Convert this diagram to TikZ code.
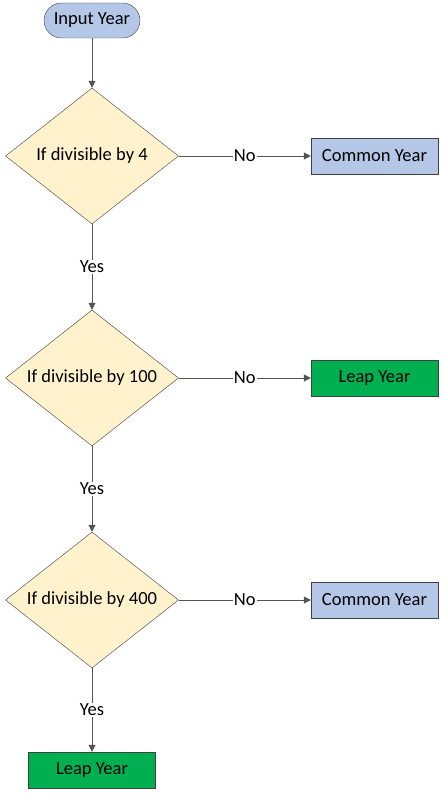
\documentclass[tikz,border=0pt]{standalone}
\usepackage{fontspec}
\setmainfont{Carlito}
\usetikzlibrary{shapes.geometric,arrows.meta,positioning}
\definecolor{boxblue}{HTML}{B4C7E7}
\definecolor{boxgreen}{HTML}{00B050}
\definecolor{decfill}{HTML}{FFF2CC}
\definecolor{edge}{HTML}{404040}
\tikzset{
  startbox/.style={draw=edge, fill=boxblue, rounded corners=17.5pt, minimum width=96pt, minimum height=35pt, font=\fontsize{18.5}{20}\selectfont},
  decision/.style={draw=edge, fill=decfill, diamond, minimum width=173pt, minimum height=136pt, inner sep=0pt, aspect=1.27, font=\fontsize{18.5}{20}\selectfont},
  outbox/.style={draw=edge, minimum width=127pt, minimum height=36pt, font=\fontsize{18.5}{20}\selectfont},
  flow/.style={draw=edge!90, line width=0.8pt, -{Triangle[length=7pt,width=7pt]}},
  lbl/.style={fill=white, inner sep=1pt, font=\fontsize{18.5}{20}\selectfont}
}
\begin{document}
\begin{tikzpicture}[x=1pt,y=-1pt]
\useasboundingbox (0,0) rectangle (444,797);
\node [startbox] (input) at (92,20.5) {Input Year};
\node [decision] (div4) at (92,156) {If divisible by 4};
\node [decision] (div100) at (92,378) {If divisible by 100};
\node [decision] (div400) at (92,600) {If divisible by 400};
\node [outbox, fill=boxblue] (common1) at (374.5,156) {Common Year};
\node [outbox, fill=boxgreen] (leap1) at (374.5,378) {Leap Year};
\node [outbox, fill=boxblue] (common2) at (374.5,600) {Common Year};
\node [outbox, fill=boxgreen] (leap2) at (92,770) {Leap Year};
% connectors
\draw [flow] (input) -- (div4);
\draw [flow] (div4) -- node [lbl] {Yes} (div100);
\draw [flow] (div100) -- node [lbl] {Yes} (div400);
\draw [flow] (div400) -- node [lbl] {Yes} (leap2);
\draw [flow] (div4) -- node [lbl] {No} (common1);
\draw [flow] (div100) -- node [lbl] {No} (leap1);
\draw [flow] (div400) -- node [lbl] {No} (common2);
\end{tikzpicture}
\end{document}
